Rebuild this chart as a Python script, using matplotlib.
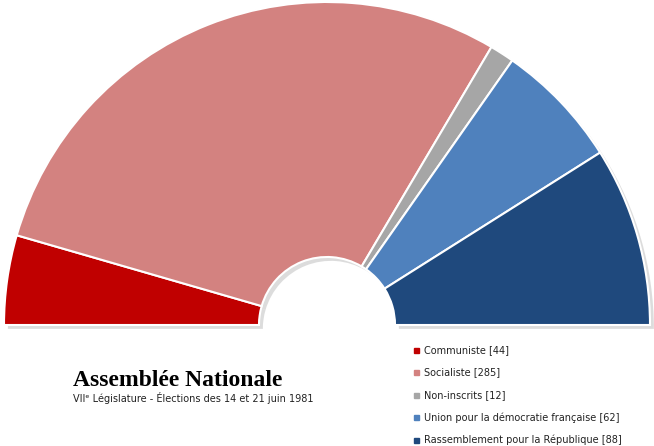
import matplotlib.pyplot as plt

parties = ["Communiste", "Socialiste", "Non-inscrits",
           "Union pour la démocratie française", "Rassemblement pour la République"]
seats = [44, 285, 12, 62, 88]
colors = ["#C00000", "#D38280", "#A6A6A6", "#4F81BD", "#1F497D"]

W, H = 654, 446
cx, cy, R = 327, 325, 323
fig = plt.figure(figsize=(W / 100, H / 100), dpi=100)
ax = fig.add_axes([0, 0, 1, 1])
ax.set_xlim(-cx / R, (W - cx) / R)
ax.set_ylim(-(H - cy) / R, cy / R)
ax.axis("off")

total = sum(seats)
vals = seats + [total]
# soft shadow
ax.pie(vals, colors=["#BBBBBB"] * 5 + ["none"], startangle=180, counterclock=False,
       radius=1.0, center=(0.012, -0.012),
       wedgeprops=dict(width=1 - 68 / R, edgecolor="none", alpha=0.5))
wedges, _ = ax.pie(vals, colors=colors + ["none"], startangle=180, counterclock=False,
                   radius=1.0, wedgeprops=dict(width=1 - 68 / R, edgecolor="white", linewidth=1.5))
wedges[-1].set_edgecolor("none")
ax.set_xlim(-cx / R, (W - cx) / R)
ax.set_ylim(-(H - cy) / R, cy / R)
ax.set_aspect("auto")

fig.text(73 / W, 1 - 381 / H, "Assemblée Nationale", family="Liberation Serif",
         fontweight="bold", fontsize=17, va="center")
fig.text(73 / W, 1 - 398 / H, "VIIᵉ Législature - Élections des 14 et 21 juin 1981",
         fontsize=7, va="center", color="#222222")

for i, (p, s) in enumerate(zip(parties, seats)):
    y = 1 - (350 + i * 22.5) / H
    fig.patches.append(plt.Rectangle((414 / W, y - 2.5 / H), 5 / W, 5 / H,
                                     transform=fig.transFigure, color=colors[i]))
    fig.text(424 / W, y, f"{p} [{s}]", fontsize=7, va="center", color="#222222")

fig.savefig("out.png", dpi=100)
